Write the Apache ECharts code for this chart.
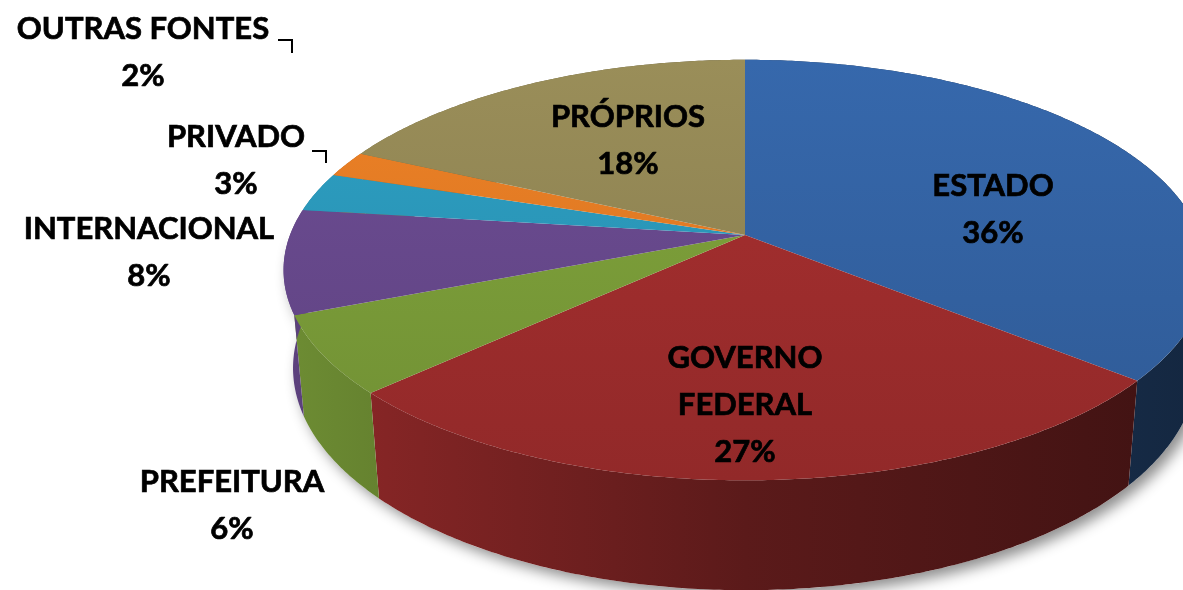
<!DOCTYPE html>
<html>
<head>
<meta charset="utf-8">
<script src="https://cdn.jsdelivr.net/npm/echarts@6/dist/echarts.min.js"></script>
<style>
  html, body { margin: 0; padding: 0; background: #fff; }
  #main { width: 1183px; height: 590px; }
</style>
</head>
<body>
<div id="main"></div>
<script>
// fontes de recursos (%)
var categories = ['ESTADO', 'GOVERNO FEDERAL', 'PREFEITURA', 'INTERNACIONAL', 'PRIVADO', 'OUTRAS FONTES', 'PRÓPRIOS'];
var labelNames = ['ESTADO', 'GOVERNO\nFEDERAL', 'PREFEITURA', 'INTERNACIONAL', 'PRIVADO', 'OUTRAS FONTES', 'PRÓPRIOS'];
var values = [36, 27, 6, 8, 3, 2, 18];
var colors = ['#3566a9', '#a62f2f', '#7fa33b', '#6b4b91', '#2c9dc0', '#ea7f25', '#978b57'];

// layout of the labels (center of the text block)
var labelPos = [[993, 209], [745, 405], [232, 505], [149, 252], [236, 160], [143, 52], [628, 140]];
var leaderLines = {
    4: [[312, 151], [326, 151], [326, 163]],
    5: [[278, 40], [292, 40], [292, 53]]
};

// perspective view of the disc
var view = { cx: 745, cy: 235, scale: 455, r: 0.1866, tilt: 26.7 * Math.PI / 180, depth: 0.243 };
var sT = Math.sin(view.tilt), cT = Math.cos(view.tilt);

function project(rho, phi, y) {
    var X = rho * Math.sin(phi), Z = rho * Math.cos(phi);
    var yc = Z * sT + y * cT;
    var zc = 1 + view.r * (Z * cT - y * sT);
    return [view.cx + view.scale * X / zc, view.cy - view.scale * yc / zc];
}

function shade(hex, f) {
    var n = parseInt(hex.slice(1), 16);
    var r = Math.min(255, Math.round(((n >> 16) & 255) * f)),
        g = Math.min(255, Math.round(((n >> 8) & 255) * f)),
        b = Math.min(255, Math.round((n & 255) * f));
    return 'rgb(' + r + ',' + g + ',' + b + ')';
}

var total = values.reduce(function (a, b) { return a + b; }, 0);
var starts = [];
var acc = 0;
values.forEach(function (v) { starts.push(acc / total * Math.PI * 2); acc += v; });

function rim(a0, a1, y) {
    var pts = [];
    var n = Math.max(4, Math.ceil((a1 - a0) / 0.01));
    for (var k = 0; k <= n; k++) pts.push(project(1, a0 + (a1 - a0) * k / n, y));
    return pts;
}

function renderItem(params, api) {
    var i = params.dataIndex;
    var a0 = starts[i];
    var a1 = a0 + api.value(1) / total * Math.PI * 2;
    var base = colors[i];
    var children = [];

    if (i === 0) {
        // sombra sob a frente do disco
        var sh = rim(Math.PI / 2, Math.PI * 1.5, -view.depth);
        children.push({
            type: 'polygon', z2: 0, silent: true,
            shape: { points: rim(Math.PI / 2, Math.PI * 1.5, 0).concat(sh.reverse()) },
            style: { fill: '#fff', shadowBlur: 14, shadowColor: 'rgba(0,0,0,0.45)', shadowOffsetX: 6, shadowOffsetY: 6 }
        });
    }

    var top = rim(a0, a1, 0);
    var bottom = rim(a0, a1, -view.depth).reverse();
    children.push({
        type: 'polygon', z2: 2,
        shape: { points: top.concat(bottom) },
        style: {
            fill: new echarts.graphic.LinearGradient(290, 0, 1200, 0, [
                { offset: 0, color: shade(base, 0.86) },
                { offset: 0.5, color: shade(base, 0.55) },
                { offset: 1, color: shade(base, 0.38) }
            ], true)
        }
    });

    children.push({
        type: 'polygon', z2: 10,
        shape: { points: [[view.cx, view.cy]].concat(top) },
        style: {
            fill: new echarts.graphic.LinearGradient(0, 60, 0, 480, [
                { offset: 0, color: shade(base, 1.02) },
                { offset: 1, color: shade(base, 0.88) }
            ], true)
        }
    });

    var lp = labelPos[i];
    children.push({
        type: 'text', z2: 20, silent: true,
        x: lp[0], y: lp[1],
        style: {
            text: labelNames[i] + '\n' + api.value(1) + '%',
            fontFamily: 'Lato', fontWeight: 'bold', fontSize: 31,
            lineHeight: 47, fill: '#000', stroke: '#000', lineWidth: 0.7,
            align: 'center', verticalAlign: 'middle'
        }
    });

    if (leaderLines[i]) {
        children.push({
            type: 'polyline', z2: 20, silent: true,
            shape: { points: leaderLines[i] },
            style: { stroke: '#000', lineWidth: 2, fill: null }
        });
    }
    return { type: 'group', children: children };
}

var myChart = echarts.init(document.getElementById('main'));
var option = {
    animation: false,
    series: [{
        type: 'custom',
        coordinateSystem: 'none',
        renderItem: renderItem,
        data: values.map(function (v, i) { return [i, v, categories[i]]; })
    }]
};
myChart.setOption(option);
</script>
</body>
</html>
